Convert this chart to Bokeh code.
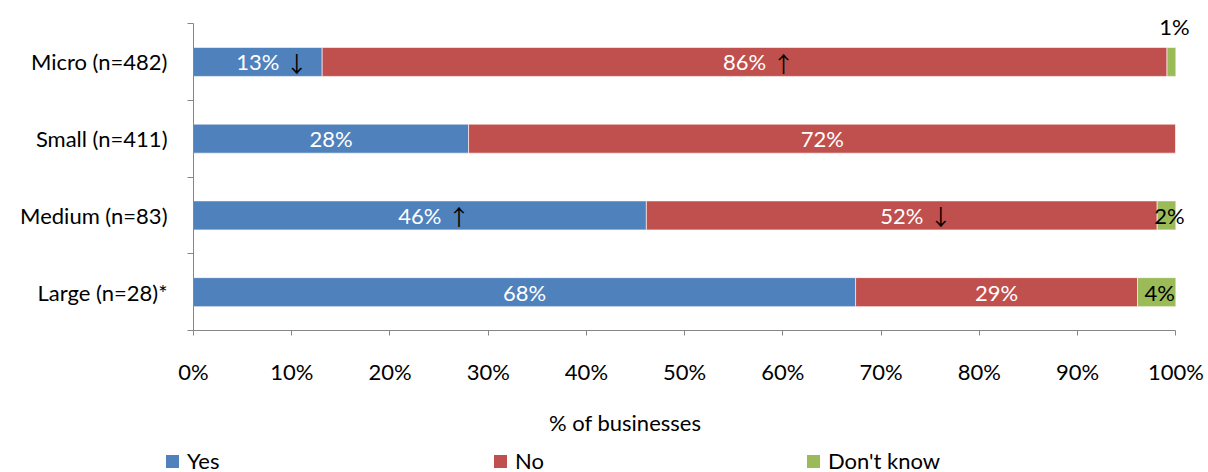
from bokeh.plotting import figure
from bokeh.models import (ColumnDataSource, FixedTicker, PrintfTickFormatter, LabelSet,
                          Range1d, Div)
from bokeh.layouts import column
from bokeh.core.properties import value
from bokeh.embed import file_html
from bokeh.resources import INLINE

categories = ["Micro (n=482)", "Small (n=411)", "Medium (n=83)", "Large (n=28)*"]
yes = [13.1, 28.0, 46.1, 67.4]
no = [86.0, 72.0, 52.0, 28.7]
dont_know = [0.9, 0.0, 1.9, 3.9]
yes_labels = ["13%", "28%", "46%", "68%"]
no_labels = ["86%", "72%", "52%", "29%"]
dk_labels = ["1%", "", "2%", "4%"]
yes_sig = ["↓", "", "↑", ""]
no_sig = ["↑", "", "↓", ""]
x_ticks = list(range(0, 101, 10))
x_title = "% of businesses"
series_names = ["Yes", "No", "Don't know"]

BLUE, RED, GREEN = "#4F81BD", "#C0504D", "#9BBB59"
COLORS = [BLUE, RED, GREEN]
FONT = "Lato"
FS = "22px"
GRAY = "#868686"
LEGEND_X = [166, 494, 807]
TITLE_CX = 625

n = len(categories)
ypos = [n - i - 0.5 for i in range(n)]
yes_end = [a for a in yes]
no_end = [a + b for a, b in zip(yes, no)]
dk_end = [a + b + c for a, b, c in zip(yes, no, dont_know)]

src = ColumnDataSource(dict(
    y=ypos,
    yes_l=[0] * n, yes_r=yes_end,
    no_l=yes_end, no_r=no_end,
    dk_l=no_end, dk_r=dk_end,
    yes_c=[v / 2 for v in yes],
    no_c=[a + b / 2 for a, b in zip(yes, no)],
    dk_c=[a + b / 2 + 0.3 for a, b in zip(no_end, dont_know)],
    dk_y=[y + (0.46 if d < 1.5 else 0) for y, d in zip(ypos, dont_know)],
    yes_t=yes_labels, no_t=no_labels, dk_t=dk_labels,
    yes_s=yes_sig, no_s=no_sig,
))

p = figure(width=1208, height=400, x_range=Range1d(0, 102), y_range=Range1d(0, n + 0.17),
           output_backend="svg", toolbar_location=None,
           min_border_left=193, min_border_right=13, min_border_top=10, min_border_bottom=70)
p.xgrid.visible = False
p.ygrid.visible = False
p.outline_line_color = None

bh = 0.378
bar_style = dict(height=bh, source=src, line_color="white", line_width=1, line_alpha=0.6)
p.hbar(y="y", left="yes_l", right="yes_r", fill_color=BLUE, **bar_style)
p.hbar(y="y", left="no_l", right="no_r", fill_color=RED, **bar_style)
p.hbar(y="y", left="dk_l", right="dk_r", fill_color=GREEN, **bar_style)

common = dict(source=src, text_font=value(FONT), text_font_size=value(FS), text_align="center",
              text_baseline="middle")
p.add_layout(LabelSet(x="yes_c", y="y", text="yes_t", text_color="white", **common))
p.add_layout(LabelSet(x="no_c", y="y", text="no_t", text_color="white", **common))
p.add_layout(LabelSet(x="dk_c", y="dk_y", text="dk_t", text_color="black", **common))
arrow = dict(source=src, text_font=value("Noto Sans CJK SC"), text_font_size=value("22px"),
             text_align="center", text_baseline="middle", text_color="black", x_offset=39)
p.add_layout(LabelSet(x="yes_c", y="y", text="yes_s", **arrow))
p.add_layout(LabelSet(x="no_c", y="y", text="no_s", **arrow))

# x axis
xa = p.xaxis[0]
xa.ticker = FixedTicker(ticks=x_ticks)
xa.bounds = (0, 100)
xa.formatter = PrintfTickFormatter(format="%d%%")
xa.axis_line_color = GRAY
xa.major_tick_line_color = GRAY
xa.major_tick_in = 0
xa.major_tick_out = 5
xa.minor_tick_in = 0
xa.minor_tick_out = 0
xa.major_label_standoff = 22
xa.major_label_text_font = FONT
xa.major_label_text_font_size = FS
xa.major_label_text_color = "black"

# y axis
ya = p.yaxis[0]
ya.ticker = FixedTicker(ticks=ypos, minor_ticks=list(range(n + 1)))
ya.bounds = (0, n)
ya.major_label_overrides = {y: c for y, c in zip(ypos, categories)}
ya.axis_line_color = GRAY
ya.major_tick_in = 0
ya.major_tick_out = 0
ya.minor_tick_in = 0
ya.minor_tick_out = 6
ya.minor_tick_line_color = GRAY
ya.major_label_standoff = 20
ya.major_label_text_font = FONT
ya.major_label_text_font_size = FS
ya.major_label_text_color = "black"

# axis title and legend strip below the chart (HTML, real text)
parts = [
    f'<span style="position:absolute;left:{TITLE_CX - 150}px;width:300px;top:10px;'
    f'line-height:26px;text-align:center;white-space:nowrap;">{x_title}</span>'
]
for nm, c, lx in zip(series_names, COLORS, LEGEND_X):
    parts.append(
        f'<span style="position:absolute;left:{lx}px;top:55px;width:13px;height:13px;'
        f'background:{c};"></span>'
        f'<span style="position:absolute;left:{lx + 21}px;top:48px;line-height:26px;'
        f'white-space:nowrap;">{nm}</span>'
    )
legend_html = (f'<div style="position:relative;width:1208px;height:72px;font-family:{FONT};'
               f'font-size:{FS};color:black;">' + "".join(parts) + "</div>")
legend_div = Div(text=legend_html, width=1208, height=72, margin=(0, 0, 0, 0))

layout = column(p, legend_div, spacing=0)
open("out.html", "w").write(file_html(layout, INLINE))
